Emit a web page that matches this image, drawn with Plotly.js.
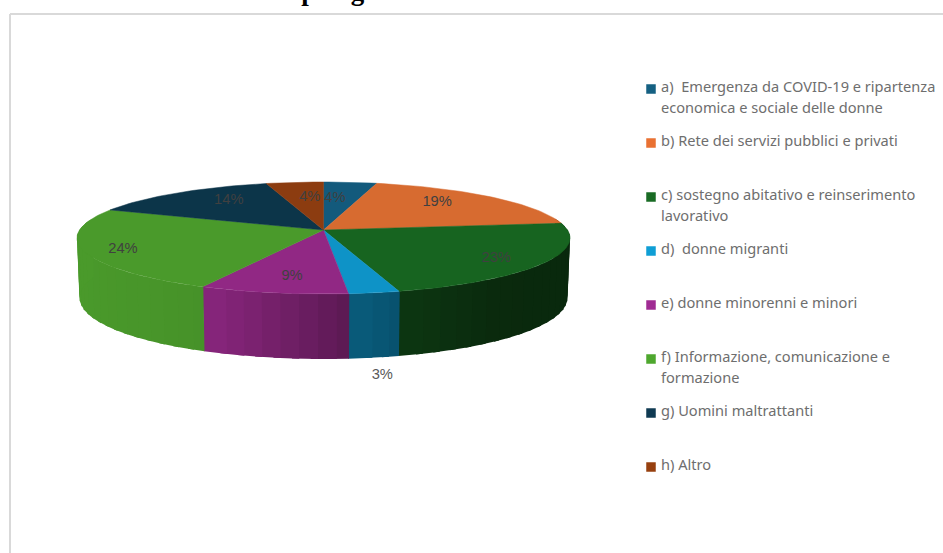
<!DOCTYPE html>
<html><head><meta charset="utf-8">
<script src="https://cdn.plot.ly/plotly-3.0.1.min.js"></script>
<style>html,body{margin:0;padding:0;background:#fff;overflow:hidden}</style>
</head><body><div id="chart" style="width:943px;height:553px"></div>
<script>
// ---- data ----
const categories = [
  ["a)  Emergenza da COVID-19 e ripartenza", "economica e sociale delle donne"],
  ["b) Rete dei servizi pubblici e privati"],
  ["c) sostegno abitativo e reinserimento", "lavorativo"],
  ["d)  donne migranti"],
  ["e) donne minorenni e minori"],
  ["f) Informazione, comunicazione e", "formazione"],
  ["g) Uomini maltrattanti"],
  ["h) Altro"]
];
const shares = [4.0, 19.0, 22.7, 2.9, 8.5, 24.2, 14.4, 4.3];
const topColors = ["#135a7c","#d76b30","#176420","#0e93c7","#912884","#4a9a2b","#0c3549","#8c3c10"];
const legendColors = ["#156082","#e97132","#196b24","#0f9ed5","#a02b93","#4ea72e","#0f3a52","#97400f"];
const titleText = "Grafico n. 1 - Tipologia delle attività finanziate dalle Istituzioni";

// ---- presentation ----
const labelRadius = [0.64, 0.745, 0.813, 1, 0.757, 0.85, 0.727, 0.66];
const labelNudge  = [-2.6, -6.2, 2.1, -1.7, -1.5, -2, 6, 2.4];
const P = {cx:323.5, cy:230, A:244, B:54.86, k:1/7};
function rad(d){return d*Math.PI/180;}
function topPt(deg,r){
  r = r===undefined?1:r;
  const u=r*Math.sin(rad(deg)), v=-r*Math.cos(rad(deg)), den=1-P.k*v;
  return {x:P.cx+P.A*u/den, y:P.cy+P.B*v/den, v:v, u:u};
}
function bottomPt(deg){
  const p=topPt(deg);
  return {x:P.cx+(p.x-P.cx)*0.99, y:p.y+59+6*p.v};
}
function hexShade(hex,f){
  const n=parseInt(hex.slice(1),16);
  const c=[(n>>16)&255,(n>>8)&255,n&255].map(v=>Math.round(Math.min(255,v*f)));
  return "rgb("+c.join(",")+")";
}
const shadeU=[-1,-0.45,-0.1,0.05,0.25,0.6,1], shadeF=[1.0,0.95,0.74,0.64,0.55,0.42,0.4];
function shade(u){
  for(let i=0;i<shadeU.length-1;i++){
    if(u<=shadeU[i+1]){
      const t=(u-shadeU[i])/(shadeU[i+1]-shadeU[i]);
      return shadeF[i]+t*(shadeF[i+1]-shadeF[i]);
    }
  }
  return shadeF[shadeF.length-1];
}
const total=shares.reduce((a,b)=>a+b,0);
let cum=0;
const slices=shares.map(s=>{const a=cum/total*360; cum+=s; return {a0:a,a1:cum/total*360};});

const traces=[];
const base={type:"scatter",mode:"lines",fill:"toself",hoverinfo:"skip",showlegend:false};
// side wall: overlapping strips, painted so that each one hides the seam of the previous one
slices.forEach((sl,i)=>{
  const a0=Math.max(sl.a0,78), a1=Math.min(sl.a1,282);
  if(a1<=a0) return;
  const n=Math.ceil((a1-a0)/4), d=(a1-a0)/n;
  for(let j=0;j<n;j++){
    const s=a0+j*d, e=s+d, m=Math.sin(rad((s+e)/2));
    const s2=Math.max(a0-0.15,s-1.5);
    const pts=[topPt(s2),topPt(e),bottomPt(e),bottomPt(s2)];
    const col=hexShade(topColors[i],shade(m));
    traces.push(Object.assign({},base,{x:pts.map(p=>p.x).concat(pts[0].x),y:pts.map(p=>p.y).concat(pts[0].y),
      fillcolor:col,line:{color:col,width:0}}));
  }
});
// top face
slices.forEach((sl,i)=>{
  const xs=[P.cx], ys=[P.cy];
  const n=Math.max(2,Math.ceil((sl.a1-sl.a0)/1.5));
  for(let j=0;j<=n;j++){const p=topPt(sl.a0+(sl.a1-sl.a0)*j/n); xs.push(p.x); ys.push(p.y);}
  xs.push(P.cx); ys.push(P.cy);
  traces.push(Object.assign({},base,{x:xs,y:ys,fillcolor:topColors[i],line:{color:topColors[i],width:0.5}}));
});
// value labels
const lx=[],ly=[],lt=[],lc=[];
slices.forEach((sl,i)=>{
  const mid=(sl.a0+sl.a1)/2+labelNudge[i];
  const p=topPt(mid,labelRadius[i]);
  const outside=labelRadius[i]>=1;
  lx.push(p.x); ly.push(outside?p.y+83:p.y+0.5);
  lt.push(Math.round(shares[i]/total*100)+"%");
  lc.push(outside?"#595959":"#404040");
});
traces.push({type:"scatter",mode:"text",x:lx,y:ly,text:lt,textposition:"middle center",cliponaxis:false,
  textfont:{family:"Liberation Sans",size:14.7,color:lc},hoverinfo:"skip",showlegend:false});
// legend
const legendX=651, legendTextX=661, legendTop=88, rowStep=54, lineStep=21;
categories.forEach((lines,i)=>{
  const y0=legendTop+i*rowStep;
  traces.push({type:"scatter",mode:"markers",x:[legendX],y:[y0+1],marker:{symbol:"square",size:9.5,color:legendColors[i],line:{width:0}},hoverinfo:"skip",showlegend:false});
  traces.push({type:"scatter",mode:"text",x:lines.map(()=>legendTextX),y:lines.map((_,j)=>y0+j*lineStep),text:lines,
    textposition:"middle right",cliponaxis:false,textfont:{family:"Noto Sans",size:14.6,color:"#6e6e6e"},hoverinfo:"skip",showlegend:false});
});

const hidden=(r)=>({range:r,visible:false,fixedrange:true});
const layout={
  width:943,height:553,margin:{l:0,r:0,t:0,b:0},autosize:false,
  paper_bgcolor:"#fff",plot_bgcolor:"#fff",showlegend:false,
  xaxis:hidden([0,943]),yaxis:hidden([553,0]),
  shapes:[
    {type:"line",xref:"paper",yref:"paper",x0:10/943,x1:1,y0:1-14/553,y1:1-14/553,line:{color:"#d9d9d9",width:2}},
    {type:"line",xref:"paper",yref:"paper",x0:10/943,x1:10/943,y0:0,y1:1-14/553,line:{color:"#d9d9d9",width:2}}
  ],
  annotations:[{text:"<b>"+titleText+"</b>",xref:"paper",yref:"paper",x:480/943,y:1-5/553,xanchor:"center",yanchor:"bottom",
    yshift:-3.4,showarrow:false,font:{family:"Liberation Serif",size:27,color:"#000"}}]
};
Plotly.newPlot("chart",traces,layout,{displayModeBar:false,staticPlot:true});
</script></body></html>
